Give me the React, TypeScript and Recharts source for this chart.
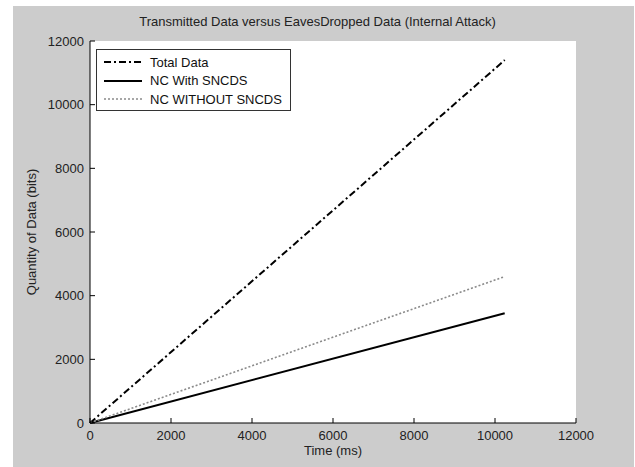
import { CartesianGrid, Legend, Line, LineChart, XAxis, YAxis } from "recharts";

// values (straight lines from the origin)
const timeMs = [0, 10240];
const totalData = [0, 11400];
const ncWithSncds = [0, 3450];
const ncWithoutSncds = [0, 4600];

const xTicks = [0, 2000, 4000, 6000, 8000, 10000, 12000];
const yTicks = [0, 2000, 4000, 6000, 8000, 10000, 12000];

const seriesNames = ["Total Data", "NC With SNCDS", "NC WITHOUT SNCDS"];

const data = timeMs.map((t, i) => ({
  time: t,
  total: totalData[i],
  withSncds: ncWithSncds[i],
  withoutSncds: ncWithoutSncds[i],
}));

const FONT = '"Liberation Sans", Arial, sans-serif';
const TEXT = "#222";

const styles = [
  { key: "total", stroke: "#000", width: 2, dash: "7 3 2 3" },
  { key: "withSncds", stroke: "#000", width: 2, dash: undefined },
  { key: "withoutSncds", stroke: "#8a8a8a", width: 1.6, dash: "2 2" },
];

function LegendBox() {
  return (
    <div
      style={{
        width: 195,
        height: 62,
        boxSizing: "border-box",
        border: "1px solid #333",
        background: "#fff",
        padding: "3px 0 0 7px",
        fontFamily: FONT,
        fontSize: 13,
        color: "#111",
      }}
    >
      {seriesNames.map((name, i) => (
        <div key={name} style={{ display: "flex", alignItems: "center", height: 18.5 }}>
          <svg width={38} height={6} style={{ marginRight: 8 }}>
            <line
              x1={0}
              x2={38}
              y1={3}
              y2={3}
              stroke={styles[i].stroke}
              strokeWidth={styles[i].width}
              strokeDasharray={styles[i].dash}
            />
          </svg>
          <span>{name}</span>
        </div>
      ))}
    </div>
  );
}

export default function App() {
  return (
    <div style={{ position: "absolute", left: 0, top: 0, width: 635, height: 467, background: "#fff" }}>
      <div style={{ position: "absolute", left: 13, top: 6, width: 621, height: 461, background: "#cccccc" }} />
      <div
        style={{
          position: "absolute",
          left: 0,
          top: 14,
          width: 635,
          textAlign: "center",
          fontFamily: FONT,
          fontSize: 13,
          color: TEXT,
          paddingLeft: 0,
        }}
      >
        Transmitted Data versus EavesDropped Data (Internal Attack)
      </div>
      <div style={{ position: "absolute", left: 0, top: 0 }}>
        <LineChart width={635} height={467} data={data} margin={{ top: 41, right: 59, bottom: 14, left: 30 }}>
          <CartesianGrid horizontal={false} vertical={false} fill="#fff" />
          <XAxis
            dataKey="time"
            type="number"
            domain={[0, 12000]}
            ticks={xTicks}
            height={30}
            tickSize={-5}
            tickMargin={13}
            axisLine={{ stroke: "#000" }}
            tickLine={{ stroke: "#000" }}
            tick={{ fill: TEXT, fontSize: 13, fontFamily: FONT }}
            label={{
              content: ({ viewBox }: any) => (
                <text
                  x={viewBox.x + viewBox.width / 2}
                  y={viewBox.y + 29}
                  textAnchor="middle"
                  dominantBaseline="middle"
                  fill={TEXT}
                  fontSize={13}
                  fontFamily={FONT}
                >
                  Time (ms)
                </text>
              ),
            }}
          />
          <YAxis
            type="number"
            domain={[0, 12000]}
            ticks={yTicks}
            width={60}
            tickSize={-5}
            tickMargin={11}
            axisLine={{ stroke: "#000" }}
            tickLine={{ stroke: "#000" }}
            tick={{ fill: TEXT, fontSize: 13, fontFamily: FONT }}
            label={{
              content: ({ viewBox }: any) => {
                const x = viewBox.x + 3;
                const y = viewBox.y + viewBox.height / 2;
                return (
                  <text
                    x={x}
                    y={y}
                    transform={`rotate(-90 ${x} ${y})`}
                    textAnchor="middle"
                    dominantBaseline="middle"
                    fill={TEXT}
                    fontSize={13}
                    fontFamily={FONT}
                  >
                    Quantity of Data (bits)
                  </text>
                );
              },
            }}
          />
          <Legend
            layout="horizontal"
            verticalAlign="middle"
            align="center"
            content={() => <LegendBox />}
            wrapperStyle={{ left: 96, top: 49, width: 195, height: 62 }}
          />
          {styles.map((s, i) => (
            <Line
              key={s.key}
              dataKey={s.key}
              name={seriesNames[i]}
              type="linear"
              stroke={s.stroke}
              strokeWidth={s.width}
              strokeDasharray={s.dash}
              dot={false}
              activeDot={false}
              isAnimationActive={false}
            />
          ))}
        </LineChart>
      </div>
    </div>
  );
}
